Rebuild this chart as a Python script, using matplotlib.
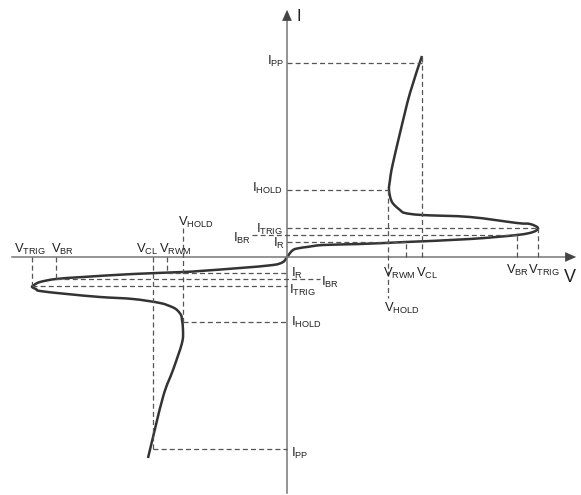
import matplotlib
matplotlib.use("Agg")
import matplotlib.pyplot as plt
import numpy as np
from matplotlib.path import Path
from matplotlib.patches import PathPatch

plt.rcParams["font.family"] = ["Liberation Sans", "DejaVu Sans"]
plt.rcParams["mathtext.fontset"] = "custom"
plt.rcParams["mathtext.rm"] = "Liberation Sans"
plt.rcParams["mathtext.it"] = "Liberation Sans"

# diagram units: V to the right, I upward, origin where the axes cross
# positive (forward) branch: snapback TVS curve
pos_v = [0, 6, 13, 20, 36, 73, 119, 183, 230, 246, 251, 243, 230, 183, 135,
         118, 113, 105, 102, 103, 104, 106, 113, 123, 135]
pos_i = [0, 7, 9, 10, 12, 13, 15, 18, 22, 25, 29, 33, 34, 40, 42,
         44, 47, 55, 67, 77, 84, 94, 124, 164, 201]

# negative branch
neg_v = [0, -4, -14, -47, -87, -104, -154, -204, -231, -247, -253, -255, -251,
         -247, -220, -187, -154, -127, -115, -110, -106, -105, -104, -105,
         -114, -124, -139]
neg_i = [0, -5, -8, -11, -14, -15, -17, -20, -22, -25, -28, -30, -32,
         -34, -37, -40, -42, -46, -50, -53, -58, -63, -73, -86,
         -113, -140, -201]

# characteristic levels
pos_levels = {"V_RWM": 119, "V_CL": 135, "V_HOLD": 101, "V_BR": 230, "V_TRIG": 251,
              "I_R": 15, "I_BR": 22, "I_TRIG": 29, "I_HOLD": 67, "I_PP": 194}
neg_levels = {"V_RWM": -120, "V_CL": -134, "V_HOLD": -104, "V_BR": -231, "V_TRIG": -255,
              "I_R": -16, "I_BR": -22, "I_TRIG": -29, "I_HOLD": -65, "I_PP": -192}

fig = plt.figure(figsize=(5.81, 4.95), dpi=100)
ax = fig.add_axes([0, 0, 1, 1])
ax.set_xlim(-287, 294)
ax.set_ylim(-238, 257)
ax.axis("off")

axis_col = "#777777"
dash_col = "#555555"
curve_col = "#333333"

# axes with arrows
ax.plot([-275, 280], [0, 0], color=axis_col, lw=1.1)
ax.plot([0, 0], [-236, 239], color=axis_col, lw=1.1)
ax.annotate("", xy=(292, 0), xytext=(276, 0),
            arrowprops=dict(arrowstyle="-|>,head_length=0.8,head_width=0.35",
                            color="#444444", lw=0))
ax.annotate("", xy=(0, 250), xytext=(0, 236),
            arrowprops=dict(arrowstyle="-|>,head_length=0.8,head_width=0.35",
                            color="#444444", lw=0))

dash = dict(color=dash_col, lw=0.9, ls=(0, (4, 2.5)))
p, n = pos_levels, neg_levels

# positive side guides
ax.plot([0, p["V_CL"]], [p["I_PP"], p["I_PP"]], **dash)
ax.plot([p["V_CL"], p["V_CL"]], [0, 200], **dash)
ax.plot([0, p["V_HOLD"]], [p["I_HOLD"], p["I_HOLD"]], **dash)
ax.plot([p["V_HOLD"], p["V_HOLD"]], [p["I_HOLD"], -41], **dash)
ax.plot([0, p["V_TRIG"]], [p["I_TRIG"], p["I_TRIG"]], **dash)
ax.plot([-35, p["V_BR"]], [p["I_BR"], p["I_BR"]], **dash)
ax.plot([0, p["V_RWM"]], [p["I_R"], p["I_R"]], **dash)
ax.plot([p["V_RWM"], p["V_RWM"]], [0, p["I_R"]], **dash)
ax.plot([p["V_BR"], p["V_BR"]], [0, p["I_BR"]], **dash)
ax.plot([p["V_TRIG"], p["V_TRIG"]], [0, p["I_TRIG"]], **dash)

# negative side guides
ax.plot([n["V_RWM"], 0], [n["I_R"], n["I_R"]], **dash)
ax.plot([n["V_BR"], 33], [n["I_BR"], n["I_BR"]], **dash)
ax.plot([n["V_TRIG"], 0], [n["I_TRIG"], n["I_TRIG"]], **dash)
ax.plot([n["V_HOLD"], 0], [n["I_HOLD"], n["I_HOLD"]], **dash)
ax.plot([n["V_CL"], 0], [n["I_PP"], n["I_PP"]], **dash)
ax.plot([n["V_TRIG"], n["V_TRIG"]], [0, n["I_TRIG"]], **dash)
ax.plot([n["V_BR"], n["V_BR"]], [0, n["I_BR"]], **dash)
ax.plot([n["V_CL"], n["V_CL"]], [0, n["I_PP"]], **dash)
ax.plot([n["V_RWM"], n["V_RWM"]], [0, n["I_R"]], **dash)
ax.plot([n["V_HOLD"], n["V_HOLD"]], [29, n["I_HOLD"]], **dash)


def smooth_path(xs, ys):
    # cubic Bezier through the read points (Catmull-Rom control points)
    pts = np.column_stack([xs, ys]).astype(float)
    verts = [pts[0]]
    codes = [Path.MOVETO]
    for k in range(len(pts) - 1):
        p0 = pts[max(k - 1, 0)]
        p1 = pts[k]
        p2 = pts[k + 1]
        p3 = pts[min(k + 2, len(pts) - 1)]
        verts += [p1 + (p2 - p0) / 6, p2 - (p3 - p1) / 6, p2]
        codes += [Path.CURVE4] * 3
    return Path(verts, codes)


for xs, ys in [(pos_v, pos_i), (neg_v, neg_i)]:
    ax.add_patch(PathPatch(smooth_path(xs, ys), fill=False, edgecolor=curve_col,
                           lw=1.8, capstyle="butt", joinstyle="round"))


def lab(x, y, main, sub="", size=9.4):
    s = main if not sub else r"$\mathrm{%s_{%s}}$" % (main, sub)
    ax.text(x - 287, 257 - y, s, fontsize=size, color="#222222",
            ha="left", va="baseline")


# axis names
lab(296, 21, "I", size=12)
lab(564, 282, "V", size=13)

# positive side labels
lab(267, 65, "I", "PP")
lab(252, 192, "I", "HOLD")
lab(256, 233, "I", "TRIG")
lab(233, 242, "I", "BR")
lab(273, 247, "I", "R")
lab(383, 277, "V", "RWM")
lab(416, 277, "V", "CL")
lab(384, 312, "V", "HOLD")
lab(506, 274, "V", "BR")
lab(528, 274, "V", "TRIG")

# negative side labels
lab(14, 253, "V", "TRIG")
lab(51, 253, "V", "BR")
lab(136, 253, "V", "CL")
lab(159, 253, "V", "RWM")
lab(178, 226, "V", "HOLD")
lab(291, 277, "I", "R")
lab(321, 286, "I", "BR")
lab(289, 294, "I", "TRIG")
lab(291, 326, "I", "HOLD")
lab(291, 457, "I", "PP")

fig.savefig("out.png", dpi=100)
